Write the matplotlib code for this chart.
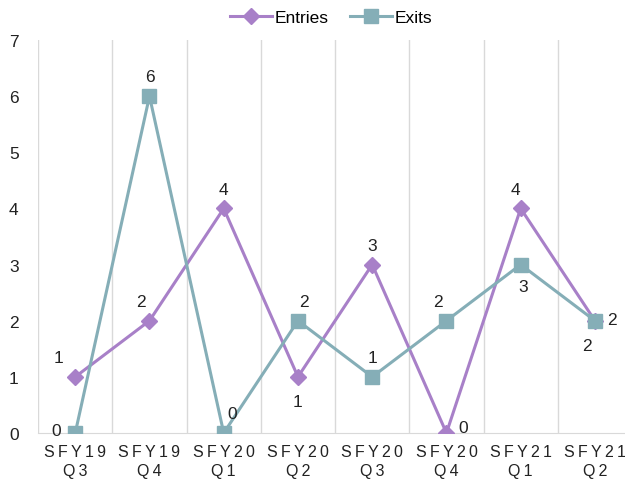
import matplotlib.pyplot as plt

# --- Daten ---
quartale = ["SFY19\nQ3", "SFY19\nQ4", "SFY20\nQ1", "SFY20\nQ2",
            "SFY20\nQ3", "SFY20\nQ4", "SFY21\nQ1", "SFY21\nQ2"]
entries = [1, 2, 4, 1, 3, 0, 4, 2]
exits = [0, 6, 0, 2, 1, 2, 3, 2]

# Label-Offsets (Punkte) wie im Original
entries_off = [(-12, 14), (-6, 14), (0, 14), (0, -18), (0, 14), (12, 4), (-4, 14), (-6, -18)]
exits_off = [(-14, 2), (0, 14), (6, 14), (4, 14), (0, 14), (-6, 14), (2, -16), (12, 1)]

farbe_entries = "#A880C8"
farbe_exits = "#85AEB7"

plt.rcParams['font.family'] = ['Liberation Sans', 'DejaVu Sans']

fig = plt.figure(figsize=(6.25, 4.89), dpi=100)
ax = fig.add_axes([0.061, 0.1125, 0.939, 0.8035])

x = list(range(len(quartale)))
ax.plot(x, entries, color=farbe_entries, lw=2.2, marker='D', markersize=8, label='Entries', zorder=3)
ax.plot(x, exits, color=farbe_exits, lw=2.2, marker='s', markersize=10, label='Exits', zorder=3)

for i, v in enumerate(entries):
    ax.annotate(str(v), (i, v), xytext=entries_off[i], textcoords='offset points',
                ha='center', va='center', fontsize=12.5, color='#222222')
for i, v in enumerate(exits):
    ax.annotate(str(v), (i, v), xytext=exits_off[i], textcoords='offset points',
                ha='center', va='center', fontsize=12.5, color='#222222')

ax.set_xlim(-0.5, 7.405)
ax.set_ylim(0, 7)
ax.set_yticks(range(0, 8))
ax.set_xticks(x)
ax.set_xticklabels(['\n'.join('\u2009'.join(t) for t in q.split('\n')) for q in quartale],
                   fontsize=11.5, color='#222222', linespacing=1.35)
ax.tick_params(axis='y', labelsize=12.5, labelcolor='#222222', length=0, pad=14)
ax.tick_params(axis='x', length=0, pad=8)

# vertikale Gitterlinien zwischen Kategorien
for g in [i - 0.5 for i in range(len(quartale) + 1)]:
    ax.axvline(g, color='#D9D9D9', lw=1, zorder=0)

for s in ['top', 'right', 'left']:
    ax.spines[s].set_visible(False)
ax.spines['bottom'].set_color('#D9D9D9')
ax.spines['bottom'].set_zorder(1)

fig.legend(loc='upper center', bbox_to_anchor=(0.53, 1.01), ncol=2, frameon=False,
           fontsize=12.5, handlelength=2.4, columnspacing=1.2, handletextpad=0.2)

fig.savefig("out.png", dpi=100)
